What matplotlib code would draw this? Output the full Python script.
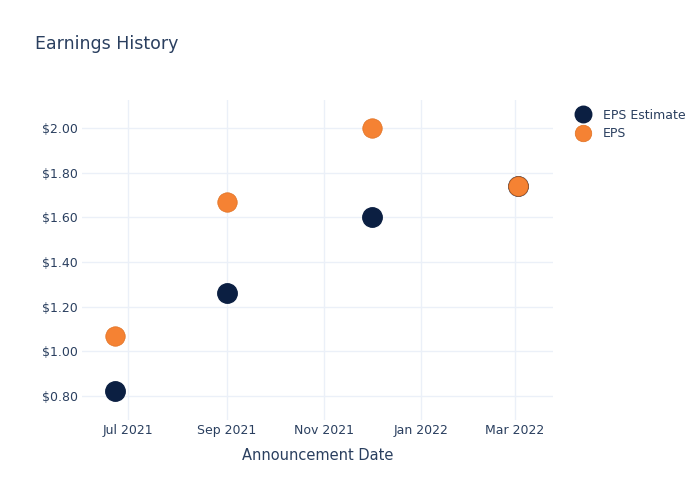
import numpy as np
import pandas as pd
import matplotlib.pyplot as plt
import matplotlib.dates as mdates
from matplotlib.ticker import FuncFormatter

# data
dates = pd.to_datetime(["2021-06-23", "2021-09-01", "2021-12-01", "2022-03-03"])
eps_estimate = [0.82, 1.26, 1.60, 1.74]
eps_actual = [1.07, 1.67, 2.00, 1.74]

txt = "#2a3f5f"
grid = "#ebf0f8"

plt.rcParams['font.family'] = ['DejaVu Sans']
fig = plt.figure(figsize=(7, 5), dpi=100)
ax = fig.add_axes([82/700, 1-420/500, (553-82)/700, 320/500])

ax.plot(dates, eps_estimate, 'o', ms=14, color="#0b1f42", mec="#0b1f42",
        label="EPS Estimate", zorder=3)
ax.plot(dates, eps_actual, 'o', ms=14, color="#f58233", mec="#e07020", mew=0.5,
        label="EPS", zorder=4)

ax.set_xlim(pd.Timestamp("2021-06-02"), pd.Timestamp("2022-03-25"))
ax.set_ylim(0.691, 2.127)
ax.set_yticks([0.8, 1.0, 1.2, 1.4, 1.6, 1.8, 2.0])
ax.yaxis.set_major_formatter(FuncFormatter(lambda v, p: "${:.2f}".format(v)))
ax.xaxis.set_major_locator(mdates.MonthLocator(bymonth=[1, 3, 5, 7, 9, 11]))
ax.xaxis.set_major_formatter(mdates.DateFormatter("%b %Y"))

for s in ax.spines.values():
    s.set_visible(False)
ax.grid(True, color=grid, lw=1)
ax.set_axisbelow(True)
ax.tick_params(length=0, colors=txt, labelsize=9)
ax.tick_params(axis='x', pad=3)
ax.tick_params(axis='y', pad=3)
ax.set_xlabel("Announcement Date", color=txt, fontsize=10.5, labelpad=8)

fig.text(35/700, 1-44/500, "Earnings History", color=txt, fontsize=12.5, va="center")

leg = ax.legend(loc="upper left", bbox_to_anchor=(1.026, 0.988), frameon=False,
                fontsize=9, labelcolor=txt, handletextpad=0.6, borderaxespad=0,
                labelspacing=0.45, markerscale=0.85)

fig.savefig("out.png", dpi=100)
